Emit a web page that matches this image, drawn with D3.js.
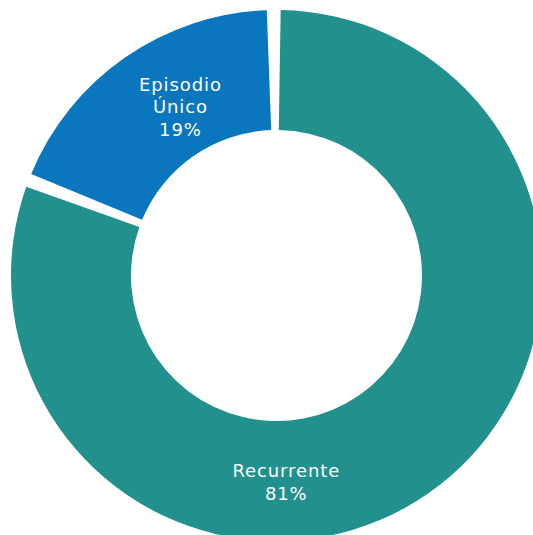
<!DOCTYPE html>
<html>
<head>
<meta charset="utf-8">
<script src="https://cdn.jsdelivr.net/npm/d3@7"></script>
<style>
  body { margin: 0; background: #fff; }
  svg { display: block; }
</style>
</head>
<body>
<div id="chart"></div>
<script>
// chart data
var labels = ['Recurrente', 'Episodio Único'];
var values = [81, 19];
var colors = ['#22918e', '#0a76bd'];

var width = 533;
var height = 535;
var cx = 276.5;
var cy = 275.5;
var rOuter = 265.5;
var rInner = 145.5;

// small angular gap between slices, and a slight rotation of the whole ring
var gap = 3 * Math.PI / 180;
var rot = -0.6 * Math.PI / 180;

var svg = d3.select('#chart').append('svg')
    .attr('width', width)
    .attr('height', height);

var g = svg.append('g')
    .attr('transform', 'translate(' + cx + ',' + cy + ')');

var pie = d3.pie()
    .sort(null)
    .startAngle(rot)
    .endAngle(rot + 2 * Math.PI);

var arcs = pie(values);

var arc = d3.arc()
    .innerRadius(rInner)
    .outerRadius(rOuter)
    .startAngle(function(d){ return d.startAngle + gap / 2; })
    .endAngle(function(d){ return d.endAngle - gap / 2; });

g.selectAll('path')
    .data(arcs)
    .enter()
    .append('path')
    .attr('d', arc)
    .attr('fill', function(d, i){ return colors[i]; });

// label spots: blue one sits near its centroid, green one at the bottom
var labelPos = [
    d3.arc().innerRadius(207).outerRadius(207)
        .centroid({startAngle: Math.PI * 0.985, endAngle: Math.PI * 0.985}),
    d3.arc().innerRadius(194).outerRadius(194)
        .centroid({startAngle: -Math.PI * 0.165, endAngle: -Math.PI * 0.165})
];

var lineH = 22.5;

arcs.forEach(function(d, i){
    var lines = labels[i].split(' ');
    lines.push(Math.round(values[i]) + '%');
    var p = labelPos[i];
    var text = g.append('text')
        .attr('text-anchor', 'middle')
        .attr('fill', '#fff')
        .style('font-family', '"DejaVu Sans", sans-serif')
        .style('font-size', '18px')
        .style('letter-spacing', '0.9px');
    var y0 = p[1] - (lines.length - 1) * lineH / 2 + 6;
    lines.forEach(function(l, j){
        text.append('tspan')
            .attr('x', p[0])
            .attr('y', y0 + j * lineH)
            .text(l);
    });
});
</script>
</body>
</html>
